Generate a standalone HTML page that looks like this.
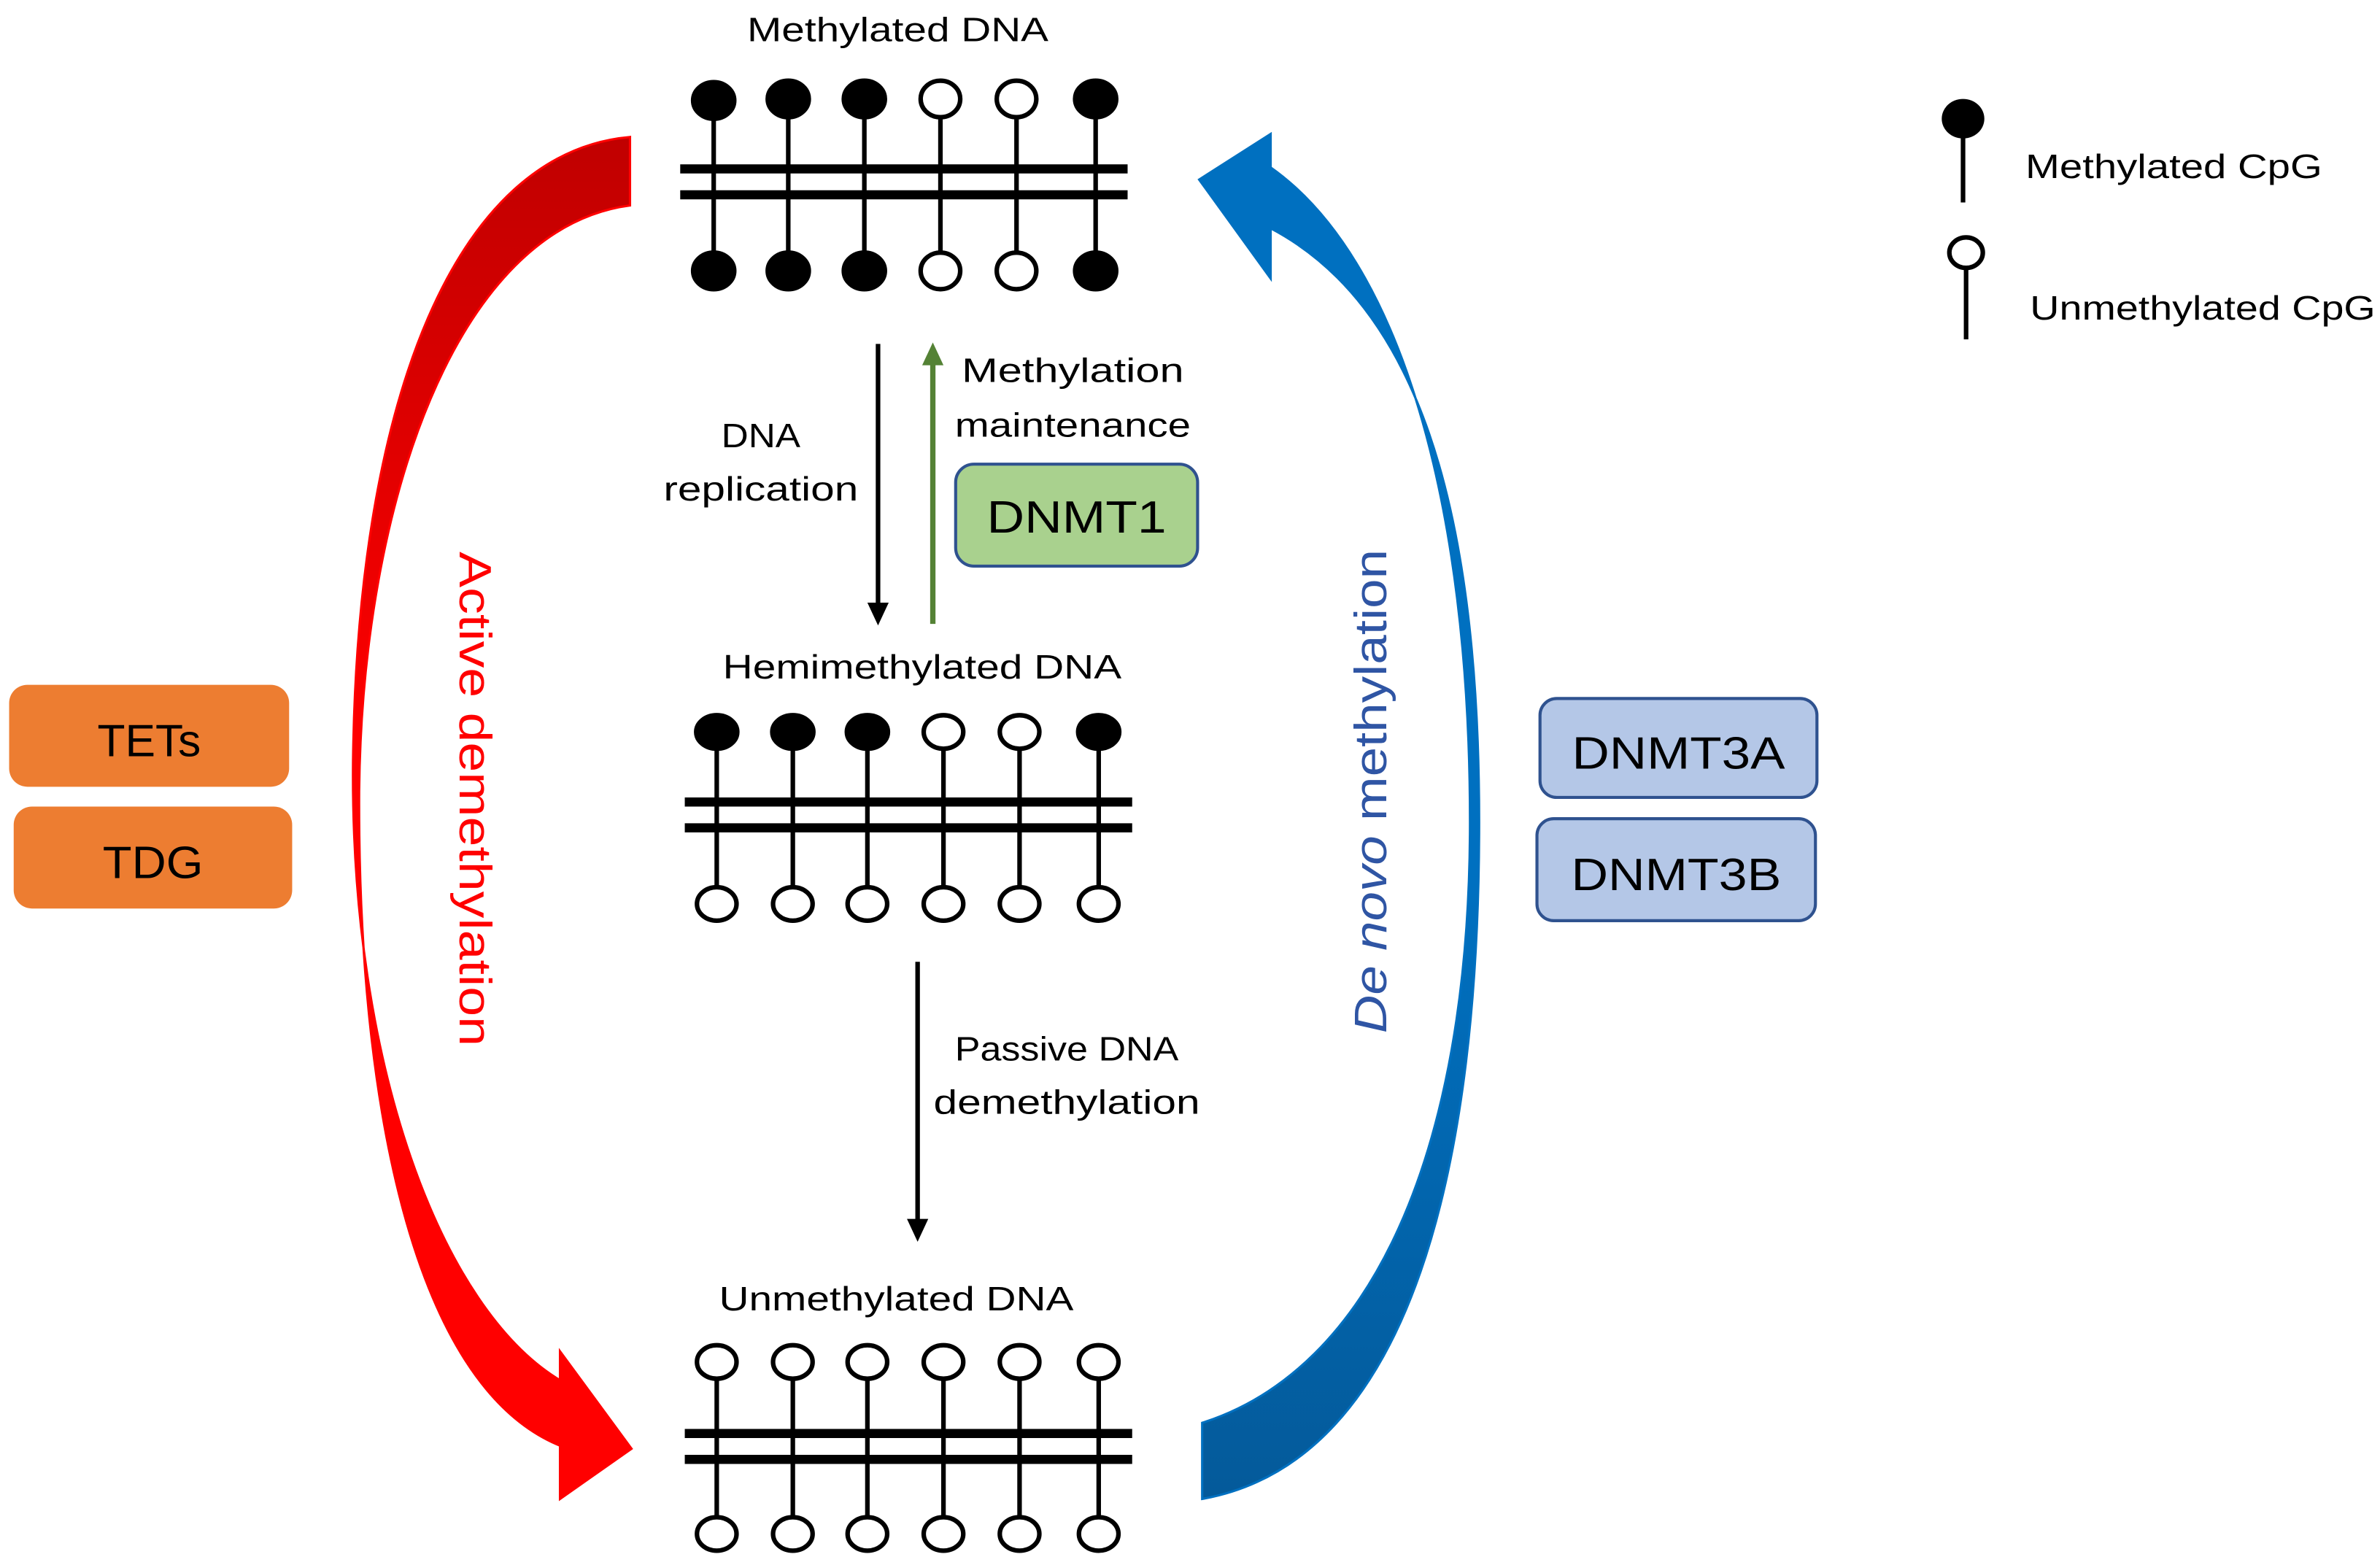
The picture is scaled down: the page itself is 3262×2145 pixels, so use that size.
<!DOCTYPE html>
<html><head><meta charset="utf-8"><style>
html,body{margin:0;padding:0;background:#fff;}
svg{display:block;}
text{font-family:"Liberation Sans",sans-serif;}
</style></head><body>
<svg width="3262" height="2145" viewBox="0 0 1564 1028.4" xmlns="http://www.w3.org/2000/svg">
<defs>
<linearGradient id="rg" x1="0" y1="0" x2="0" y2="1">
<stop offset="0" stop-color="#c00000"/><stop offset="0.45" stop-color="#ff0000"/><stop offset="1" stop-color="#ff0000"/>
</linearGradient>
<linearGradient id="bg" x1="0" y1="0" x2="0" y2="1">
<stop offset="0" stop-color="#0070c0"/><stop offset="0.55" stop-color="#0070c0"/><stop offset="1" stop-color="#045a9a"/>
</linearGradient>
</defs>

<!-- red arc -->
<path d="M414,90 C300,100 235,260 232,500 C230,700 290,860 368,907 L368,888 L415,952 L368,985 L368,950 C270,910 235,720 236,520 C238,330 300,150 414,135 Z" fill="url(#rg)" stroke="#ff0000" stroke-width="1.5"/>
<!-- blue arc -->
<path d="M835,110 C920,170 966,330 966,540 C966,760 900,900 790,935 L790,985 C930,960 972,760 972,540 C972,330 930,200 835,150 L835,183 L788,118 L835,88 Z" fill="url(#bg)" stroke="#0070c0" stroke-width="1.5"/>

<!-- rotated labels -->
<text transform="translate(302,525) rotate(90)" text-anchor="middle" font-size="30" fill="#ff0000" textLength="325" lengthAdjust="spacingAndGlyphs">Active demethylation</text>
<text transform="translate(911,520) rotate(-90)" text-anchor="middle" font-size="30" fill="#2f55a4" textLength="318" lengthAdjust="spacingAndGlyphs"><tspan font-style="italic">De novo</tspan> methylation</text>

<!-- titles -->
<text x="590" y="27" text-anchor="middle" font-size="22" textLength="198" lengthAdjust="spacingAndGlyphs">Methylated DNA</text>
<text x="606" y="446" text-anchor="middle" font-size="22" textLength="262" lengthAdjust="spacingAndGlyphs">Hemimethylated DNA</text>
<text x="589" y="861" text-anchor="middle" font-size="22" textLength="233" lengthAdjust="spacingAndGlyphs">Unmethylated DNA</text>

<g stroke="#000" stroke-width="3">
<!-- Methylated DNA -->
<line x1="469" y1="65" x2="469" y2="178"/><line x1="518" y1="65" x2="518" y2="178"/><line x1="568" y1="65" x2="568" y2="178"/>
<line x1="618" y1="65" x2="618" y2="178"/><line x1="668" y1="65" x2="668" y2="178"/><line x1="720" y1="65" x2="720" y2="178"/>
<!-- Hemi -->
<line x1="471" y1="481" x2="471" y2="593"/><line x1="521" y1="481" x2="521" y2="593"/><line x1="570" y1="481" x2="570" y2="593"/>
<line x1="620" y1="481" x2="620" y2="593"/><line x1="670" y1="481" x2="670" y2="593"/><line x1="722" y1="481" x2="722" y2="593"/>
<!-- Unmeth -->
<line x1="471" y1="895" x2="471" y2="1008"/><line x1="521" y1="895" x2="521" y2="1008"/><line x1="570" y1="895" x2="570" y2="1008"/>
<line x1="620" y1="895" x2="620" y2="1008"/><line x1="670" y1="895" x2="670" y2="1008"/><line x1="722" y1="895" x2="722" y2="1008"/>
</g>
<g stroke="#000" stroke-width="6">
<line x1="447" y1="111" x2="741" y2="111"/><line x1="447" y1="128" x2="741" y2="128"/>
<line x1="450" y1="527" x2="744" y2="527"/><line x1="450" y1="544" x2="744" y2="544"/>
<line x1="450" y1="942" x2="744" y2="942"/><line x1="450" y1="959" x2="744" y2="959"/>
</g>
<g stroke="#000" stroke-width="3">
<!-- methylated top -->
<ellipse cx="469" cy="66" rx="13.5" ry="12" fill="#000"/><ellipse cx="518" cy="65" rx="13.5" ry="12" fill="#000"/><ellipse cx="568" cy="65" rx="13.5" ry="12" fill="#000"/>
<ellipse cx="618" cy="65" rx="13" ry="12" fill="#fff"/><ellipse cx="668" cy="65" rx="13" ry="12" fill="#fff"/><ellipse cx="720" cy="65" rx="13.5" ry="12" fill="#000"/>
<ellipse cx="469" cy="178" rx="13.5" ry="12" fill="#000"/><ellipse cx="518" cy="178" rx="13.5" ry="12" fill="#000"/><ellipse cx="568" cy="178" rx="13.5" ry="12" fill="#000"/>
<ellipse cx="618" cy="178" rx="13" ry="12" fill="#fff"/><ellipse cx="668" cy="178" rx="13" ry="12" fill="#fff"/><ellipse cx="720" cy="178" rx="13.5" ry="12" fill="#000"/>
<!-- hemi -->
<ellipse cx="471" cy="481" rx="13.5" ry="11" fill="#000"/><ellipse cx="521" cy="481" rx="13.5" ry="11" fill="#000"/><ellipse cx="570" cy="481" rx="13.5" ry="11" fill="#000"/>
<ellipse cx="620" cy="481" rx="13" ry="11" fill="#fff"/><ellipse cx="670" cy="481" rx="13" ry="11" fill="#fff"/><ellipse cx="722" cy="481" rx="13.5" ry="11" fill="#000"/>
<ellipse cx="471" cy="594" rx="13" ry="11" fill="#fff"/><ellipse cx="521" cy="594" rx="13" ry="11" fill="#fff"/><ellipse cx="570" cy="594" rx="13" ry="11" fill="#fff"/>
<ellipse cx="620" cy="594" rx="13" ry="11" fill="#fff"/><ellipse cx="670" cy="594" rx="13" ry="11" fill="#fff"/><ellipse cx="722" cy="594" rx="13" ry="11" fill="#fff"/>
<!-- unmeth -->
<ellipse cx="471" cy="895" rx="13" ry="11" fill="#fff"/><ellipse cx="521" cy="895" rx="13" ry="11" fill="#fff"/><ellipse cx="570" cy="895" rx="13" ry="11" fill="#fff"/>
<ellipse cx="620" cy="895" rx="13" ry="11" fill="#fff"/><ellipse cx="670" cy="895" rx="13" ry="11" fill="#fff"/><ellipse cx="722" cy="895" rx="13" ry="11" fill="#fff"/>
<ellipse cx="471" cy="1008" rx="13" ry="11" fill="#fff"/><ellipse cx="521" cy="1008" rx="13" ry="11" fill="#fff"/><ellipse cx="570" cy="1008" rx="13" ry="11" fill="#fff"/>
<ellipse cx="620" cy="1008" rx="13" ry="11" fill="#fff"/><ellipse cx="670" cy="1008" rx="13" ry="11" fill="#fff"/><ellipse cx="722" cy="1008" rx="13" ry="11" fill="#fff"/>
</g>

<!-- vertical arrows -->
<line x1="577" y1="226" x2="577" y2="398" stroke="#000" stroke-width="3"/>
<path d="M570,396 L584,396 L577,411 Z" fill="#000"/>
<line x1="613" y1="410" x2="613" y2="238" stroke="#548235" stroke-width="3.5"/>
<path d="M606,240 L620,240 L613,225 Z" fill="#548235"/>
<line x1="603" y1="632" x2="603" y2="803" stroke="#000" stroke-width="3"/>
<path d="M596,801 L610,801 L603,816 Z" fill="#000"/>

<!-- arrow labels -->
<g font-size="22">
<text x="500" y="294" text-anchor="middle" textLength="52" lengthAdjust="spacingAndGlyphs">DNA</text>
<text x="500" y="329" text-anchor="middle" textLength="128" lengthAdjust="spacingAndGlyphs">replication</text>
<text x="705" y="251" text-anchor="middle" textLength="146" lengthAdjust="spacingAndGlyphs">Methylation</text>
<text x="705" y="287" text-anchor="middle" textLength="155" lengthAdjust="spacingAndGlyphs">maintenance</text>
<text x="701" y="697" text-anchor="middle" textLength="147" lengthAdjust="spacingAndGlyphs">Passive DNA</text>
<text x="701" y="732" text-anchor="middle" textLength="175" lengthAdjust="spacingAndGlyphs">demethylation</text>
</g>

<!-- boxes -->
<rect x="628" y="305" width="159" height="67" rx="12" fill="#a9d18e" stroke="#2f528f" stroke-width="2"/>
<text x="707.5" y="350" text-anchor="middle" font-size="30" textLength="118" lengthAdjust="spacingAndGlyphs">DNMT1</text>

<rect x="6" y="450" width="184" height="67" rx="12" fill="#ed7d31"/>
<text x="98" y="497" text-anchor="middle" font-size="30" textLength="68" lengthAdjust="spacingAndGlyphs">TETs</text>
<rect x="9" y="530" width="183" height="67" rx="12" fill="#ed7d31"/>
<text x="100.5" y="577" text-anchor="middle" font-size="30" textLength="66" lengthAdjust="spacingAndGlyphs">TDG</text>

<rect x="1012" y="459" width="182" height="65" rx="11" fill="#b4c7e7" stroke="#2f528f" stroke-width="2"/>
<text x="1103" y="505" text-anchor="middle" font-size="30" textLength="140" lengthAdjust="spacingAndGlyphs">DNMT3A</text>
<rect x="1010" y="538" width="183" height="67" rx="11" fill="#b4c7e7" stroke="#2f528f" stroke-width="2"/>
<text x="1101.5" y="585" text-anchor="middle" font-size="30" textLength="138" lengthAdjust="spacingAndGlyphs">DNMT3B</text>

<!-- legend -->
<line x1="1290" y1="80" x2="1290" y2="133" stroke="#000" stroke-width="3"/>
<ellipse cx="1290" cy="78" rx="14" ry="13" fill="#000"/>
<text x="1331" y="117" font-size="22" textLength="195" lengthAdjust="spacingAndGlyphs">Methylated CpG</text>
<line x1="1292" y1="175" x2="1292" y2="223" stroke="#000" stroke-width="3"/>
<ellipse cx="1292" cy="166" rx="11" ry="10" fill="#fff" stroke="#000" stroke-width="3"/>
<text x="1334" y="210" font-size="22" textLength="227" lengthAdjust="spacingAndGlyphs">Unmethylated CpG</text>
</svg>
</body></html>
